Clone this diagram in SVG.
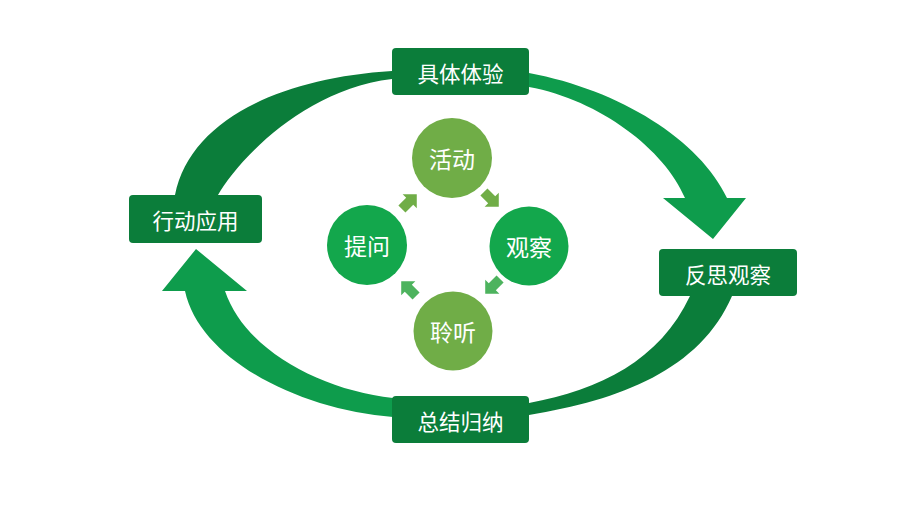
<svg xmlns="http://www.w3.org/2000/svg" width="900" height="506" viewBox="0 0 900 506">
<defs>
<style>
.dark{fill:#0B7D3A}
.bright{fill:#0E9C4C}
.box{fill:#0B7D3A}
.lbl{fill:#FFFFFF;font-family:"Noto Sans CJK SC","Noto Sans",sans-serif;font-size:21.5px;text-anchor:middle;dominant-baseline:central}
.clbl{fill:#FFFFFF;font-family:"Noto Sans CJK SC","Noto Sans",sans-serif;font-size:23px;text-anchor:middle;dominant-baseline:central}
.olive{fill:#70AD47}
.green{fill:#13A74C}
.sa1{fill:#70AD47}
.sa2{fill:#4DB35E}
</style>
<path id="sarrow" d="M-10,-5 L1,-5 L1,-10 L11,0 L1,10 L1,5 L-10,5 Z"/>
</defs>
<rect width="900" height="506" fill="#FFFFFF"/>
<g id="connectors">
<path class="dark" d="M175,195 C190,120 280,78 392,71 L470,71 L470,80 L392,79 C300,90 235,165 218,195 Z"/>
<path class="bright" d="M460,71 L529,73 C620,90 700,140 727,198 L746,198 L713,239 L663,198 L685,198 C665,150 600,100 529,87 L460,85 Z"/>
<path class="dark" d="M732,296 C700,370 620,400 529,415 L460,416 L460,404 L529,403 C600,390 660,360 690,296 Z"/>
<path class="bright" d="M460,417 L393,417 C300,410 200,360 185,291 L162,291 L196,249 L247,291 L225,291 C245,350 320,390 393,398 L460,398 Z"/>
<use href="#sarrow" class="sa1" transform="translate(409,202) rotate(-45)"/>
<use href="#sarrow" class="sa1" transform="translate(491,199) rotate(45)"/>
<use href="#sarrow" class="sa2" transform="translate(493,286) rotate(135)"/>
<use href="#sarrow" class="sa2" transform="translate(409,289) rotate(-135)"/>
</g>
<g id="node-jutitiyan">
<rect class="box" x="392" y="48" width="137" height="47" rx="4"/>
<text class="lbl" x="460.5" y="72">具体体验</text>
</g>
<g id="node-fansiguancha">
<rect class="box" x="659" y="249" width="138" height="47" rx="4"/>
<text class="lbl" x="728" y="273">反思观察</text>
</g>
<g id="node-zongjieguina">
<rect class="box" x="392" y="396" width="137" height="47" rx="4"/>
<text class="lbl" x="460.5" y="420">总结归纳</text>
</g>
<g id="node-xingdongyingyong">
<rect class="box" x="129" y="195" width="133" height="48" rx="4"/>
<text class="lbl" x="195.5" y="219">行动应用</text>
</g>
<g id="node-huodong">
<circle class="olive" cx="452" cy="158" r="40"/>
<text class="clbl" x="452" y="158">活动</text>
</g>
<g id="node-guancha">
<circle class="green" cx="529" cy="246" r="39.5"/>
<text class="clbl" x="529" y="246">观察</text>
</g>
<g id="node-lingting">
<circle class="olive" cx="453" cy="331" r="39.5"/>
<text class="clbl" x="453" y="331">聆听</text>
</g>
<g id="node-tiwen">
<circle class="green" cx="367" cy="245" r="40"/>
<text class="clbl" x="367" y="245">提问</text>
</g>
</svg>
